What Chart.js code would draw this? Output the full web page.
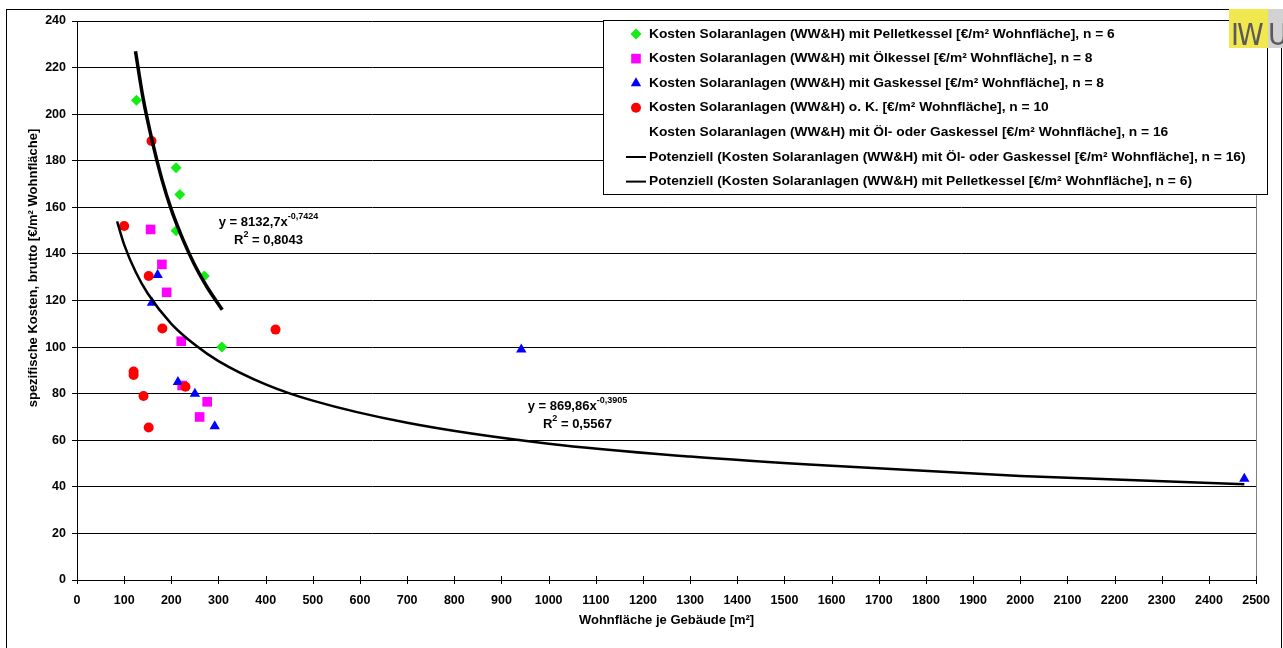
<!DOCTYPE html>
<html>
<head>
<meta charset="utf-8">
<script src="https://cdn.jsdelivr.net/npm/chart.js@4/dist/chart.umd.min.js"></script>
<style>
  html, body { margin: 0; padding: 0; background: #fff; }
  canvas { display: block; }
</style>
</head>
<body>
<canvas id="SolarChart" width="1283" height="648"></canvas>
<script>
// Punkte (Wohnfläche [m²], Kosten [€/m²])
const pelletX = [126, 210, 218, 210, 270, 307];
const pelletY = [206, 177, 165.5, 150, 130.5, 100];
const oilX = [156, 180, 190, 221, 223, 276, 260];
const oilY = [150.5, 135.5, 123.5, 102.5, 83.5, 76.5, 70];
const gasX = [171, 159, 214, 250, 292, 942, 2475];
const gasY = [131, 119, 85, 80, 66, 99, 43.5];
const noBoilerX = [158, 100, 152, 181, 421, 120, 120, 230, 141, 152];
const noBoilerY = [188.5, 152, 130.5, 108, 107.5, 89.5, 88, 83, 79, 65.5];

const trendOilGasX = [85, 100, 125, 150, 200, 250, 300, 400, 500, 700, 1000, 1300, 1600, 2000, 2475];
const trendOilGasY = [154, 144, 132, 123, 110, 101, 94, 84, 77, 67.5, 58.5, 53, 49, 44.7, 41.1];
const trendPelletX = [124, 140, 160, 180, 200, 225, 250, 275, 308];
const trendPelletY = [227, 207, 188, 172, 159, 146, 135, 126, 116];

const seriesLabels = [
  'Kosten Solaranlagen (WW&H) mit Pelletkessel [€/m² Wohnfläche], n = 6',
  'Kosten Solaranlagen (WW&H) mit Ölkessel [€/m² Wohnfläche], n = 8',
  'Kosten Solaranlagen (WW&H) mit Gaskessel [€/m² Wohnfläche], n = 8',
  'Kosten Solaranlagen (WW&H) o. K. [€/m² Wohnfläche], n = 10',
  'Kosten Solaranlagen (WW&H) mit Öl- oder Gaskessel [€/m² Wohnfläche], n = 16',
  'Potenziell (Kosten Solaranlagen (WW&H) mit Öl- oder Gaskessel [€/m² Wohnfläche], n = 16)',
  'Potenziell (Kosten Solaranlagen (WW&H) mit Pelletkessel [€/m² Wohnfläche], n = 6)'
];
const equations = [
  { main: 'y = 8132,7x', exp: '-0,7424', r2: ' = 0,8043', at: [406, 153.5] },
  { main: 'y = 869,86x', exp: '-0,3905', r2: ' = 0,5567', at: [1061, 74.5] }
];
const xTitle = 'Wohnfläche je Gebäude [m²]';
const yTitle = 'spezifische Kosten, brutto [€/m² Wohnfläche]';

function pts(xs, ys) {
  return xs.map((v, i) => ({ x: v, y: ys[i] }));
}

const FONT = '"Liberation Sans", Arial, sans-serif';
Chart.defaults.font.family = FONT;
Chart.defaults.font.weight = 'bold';
Chart.defaults.font.size = 12.5;
Chart.defaults.color = '#000';

// Text leicht in die Breite gezogen, wie im Original
function wideText(ctx, text, x, y, sx) {
  ctx.save();
  ctx.translate(x, y);
  ctx.scale(sx, 1);
  ctx.fillText(text, 0, 0);
  ctx.restore();
}

// Rahmen, Achsentitel, Gleichungen, Legende und Logo
const extras = {
  id: 'extras',
  beforeDraw(chart) {
    const ctx = chart.ctx;
    ctx.save();
    ctx.fillStyle = '#fff';
    ctx.fillRect(0, 0, chart.width, chart.height);
    ctx.restore();
  },
  afterDraw(chart) {
    const { ctx, chartArea: a, scales } = chart;
    const sx = scales.x, sy = scales.y;
    ctx.save();

    // rechter Rand der Zeichnungsfläche
    ctx.strokeStyle = '#808080';
    ctx.lineWidth = 1;
    ctx.beginPath();
    ctx.moveTo(Math.round(a.right) + 0.5, a.top);
    ctx.lineTo(Math.round(a.right) + 0.5, a.bottom);
    ctx.stroke();

    // Teilstriche der x-Achse (kreuzend)
    ctx.strokeStyle = '#000';
    ctx.beginPath();
    sx.ticks.forEach(t => {
      const px = Math.round(sx.getPixelForValue(t.value)) + 0.5;
      ctx.moveTo(px, a.bottom - 4);
      ctx.lineTo(px, a.bottom + 4);
    });
    ctx.stroke();

    // Achsentitel
    ctx.fillStyle = '#000';
    ctx.font = 'bold 13px ' + FONT;
    ctx.textAlign = 'center';
    ctx.textBaseline = 'middle';
    ctx.fillText(xTitle, (a.left + a.right) / 2, 620);
    ctx.save();
    ctx.translate(33, 268);
    ctx.rotate(-Math.PI / 2);
    ctx.fillText(yTitle, 0, 0);
    ctx.restore();

    // Gleichungen der Trendlinien
    equations.forEach(eq => {
      const cx = sx.getPixelForValue(eq.at[0]);
      const cy = sy.getPixelForValue(eq.at[1]);
      ctx.textAlign = 'left';
      ctx.textBaseline = 'alphabetic';
      ctx.font = 'bold 13px ' + FONT;
      const w1 = ctx.measureText(eq.main).width;
      ctx.font = 'bold 9px ' + FONT;
      const we = ctx.measureText(eq.exp).width;
      let x0 = cx - (w1 + we) / 2;
      ctx.font = 'bold 13px ' + FONT;
      ctx.fillText(eq.main, x0, cy + 4);
      ctx.font = 'bold 9px ' + FONT;
      ctx.fillText(eq.exp, x0 + w1, cy - 3);
      ctx.font = 'bold 13px ' + FONT;
      const wr = ctx.measureText('R').width;
      const wr2 = ctx.measureText(eq.r2).width;
      ctx.font = 'bold 9px ' + FONT;
      const w2 = ctx.measureText('2').width;
      x0 = cx - (wr + w2 + wr2) / 2;
      ctx.font = 'bold 13px ' + FONT;
      ctx.fillText('R', x0, cy + 22);
      ctx.font = 'bold 9px ' + FONT;
      ctx.fillText('2', x0 + wr, cy + 15);
      ctx.font = 'bold 13px ' + FONT;
      ctx.fillText(eq.r2, x0 + wr + w2, cy + 22);
    });

    // Legende
    const lx = 603, ly = 20, lw = 664, lh = 174;
    ctx.fillStyle = '#fff';
    ctx.fillRect(lx, ly, lw, lh);
    ctx.strokeStyle = '#000';
    ctx.lineWidth = 1;
    ctx.strokeRect(lx + 0.5, ly + 0.5, lw, lh);
    chart.data.datasets.forEach((ds, i) => {
      const rowY = 34 + i * 24.6;
      if (ds.showLine && ds.pointRadius === 0) {
        ctx.strokeStyle = '#000';
        ctx.lineWidth = 2;
        ctx.beginPath();
        ctx.moveTo(626, rowY);
        ctx.lineTo(646, rowY);
        ctx.stroke();
      } else if (ds.pointRadius > 0) {
        ctx.fillStyle = ds.backgroundColor;
        ctx.strokeStyle = ds.borderColor;
        Chart.helpers.drawPoint(ctx, {
          pointStyle: ds.pointStyle, radius: ds.pointRadius, rotation: 0, borderWidth: 0
        }, 636, rowY);
      }
      ctx.fillStyle = '#000';
      ctx.font = 'bold 13px ' + FONT;
      ctx.textAlign = 'left';
      ctx.textBaseline = 'middle';
      wideText(ctx, ds.label, 649, rowY, 1.06);
    });

    // äußerer Rahmen
    ctx.strokeStyle = '#000';
    ctx.lineWidth = 1;
    ctx.strokeRect(6.5, 9.5, 1275, 660);

    // IWU Logo
    ctx.fillStyle = '#f1e74f';
    ctx.fillRect(1229, 9, 39, 39);
    ctx.fillStyle = '#d2d2d2';
    ctx.fillRect(1268, 9, 15, 39);
    ctx.fillStyle = '#5a5a5a';
    ctx.font = '30px "DejaVu Sans", sans-serif';
    ctx.textAlign = 'left';
    ctx.textBaseline = 'alphabetic';
    wideText(ctx, 'I', 1231, 45, 0.9);
    wideText(ctx, 'W', 1237, 45, 0.9);
    wideText(ctx, 'U', 1268, 45, 0.9);
    ctx.restore();
  }
};

const ctx = document.getElementById('SolarChart');

const SolarChart = new Chart(ctx, {
  type: 'scatter',
  data: {
    datasets: [
      {
        label: seriesLabels[0], data: pts(pelletX, pelletY),
        pointStyle: 'rectRot', pointRadius: 5.5, backgroundColor: '#14ec14', borderColor: '#14ec14',
        borderWidth: 0, order: 4
      },
      {
        label: seriesLabels[1], data: pts(oilX, oilY),
        pointStyle: 'rect', pointRadius: 6.8, backgroundColor: '#ff00ff', borderColor: '#ff00ff',
        borderWidth: 0, order: 3
      },
      {
        label: seriesLabels[2], data: pts(gasX, gasY),
        pointStyle: 'triangle', pointRadius: 6, backgroundColor: '#0000ff', borderColor: '#0000ff',
        borderWidth: 0, order: 2
      },
      {
        label: seriesLabels[3], data: pts(noBoilerX, noBoilerY),
        pointStyle: 'circle', pointRadius: 5, backgroundColor: '#ff0000', borderColor: '#ff0000',
        borderWidth: 0, order: 1
      },
      {
        label: seriesLabels[4], data: pts(oilX.concat(gasX), oilY.concat(gasY)),
        pointRadius: 0, showLine: false, backgroundColor: 'rgba(0,0,0,0)', borderColor: 'rgba(0,0,0,0)',
        order: 5
      },
      {
        label: seriesLabels[5], data: pts(trendOilGasX, trendOilGasY),
        showLine: true, pointRadius: 0, borderColor: '#000', borderWidth: 2.5,
        cubicInterpolationMode: 'monotone', order: 0
      },
      {
        label: seriesLabels[6], data: pts(trendPelletX, trendPelletY),
        showLine: true, pointRadius: 0, borderColor: '#000', borderWidth: 3.5,
        cubicInterpolationMode: 'monotone', order: 0
      }
    ]
  },
  options: {
    responsive: false,
    animation: false,
    devicePixelRatio: 1,
    layout: { padding: { top: 21, right: 16, left: 0, bottom: 0 } },
    plugins: {
      legend: { display: false },
      tooltip: { enabled: false }
    },
    scales: {
      x: {
        type: 'linear', min: 0, max: 2500,
        afterFit: s => { s.height = 68; },
        grid: { display: false, drawTicks: false },
        border: { display: true, color: '#000', width: 1 },
        ticks: { stepSize: 100, autoSkip: false, maxRotation: 0, padding: 13, callback: v => String(v) }
      },
      y: {
        type: 'linear', min: 0, max: 240,
        afterFit: s => { s.width = 77; },
        grid: { color: '#000', lineWidth: 1, drawTicks: true, tickLength: 5, tickColor: '#000' },
        border: { display: true, color: '#000', width: 1 },
        ticks: { stepSize: 20, padding: 6, callback: v => String(v) }
      }
    }
  },
  plugins: [extras]
});
</script>
</body>
</html>
